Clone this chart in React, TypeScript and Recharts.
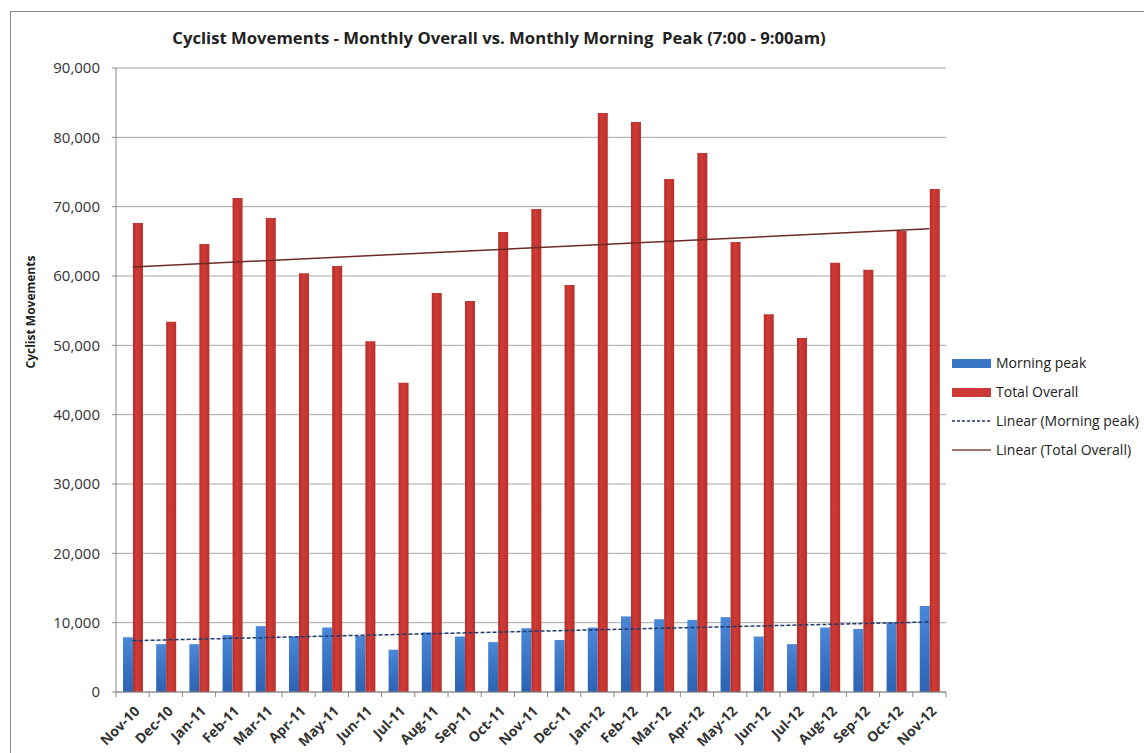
import React from 'react'
import { ComposedChart, Bar, Line, XAxis, YAxis, CartesianGrid, Legend } from 'recharts'

const months = [
  'Nov-10', 'Dec-10', 'Jan-11', 'Feb-11', 'Mar-11', 'Apr-11', 'May-11', 'Jun-11', 'Jul-11',
  'Aug-11', 'Sep-11', 'Oct-11', 'Nov-11', 'Dec-11', 'Jan-12', 'Feb-12', 'Mar-12', 'Apr-12',
  'May-12', 'Jun-12', 'Jul-12', 'Aug-12', 'Sep-12', 'Oct-12', 'Nov-12',
]
const morningPeak = [
  7900, 6900, 6900, 8200, 9500, 8000, 9300, 8100, 6100, 8600, 8000, 7200, 9200,
  7500, 9300, 10900, 10500, 10400, 10800, 8000, 6900, 9300, 9100, 10000, 12400,
]
const totalOverall = [
  67650, 53400, 64600, 71250, 68350, 60400, 61450, 50600, 44600, 57550, 56400, 66350, 69650,
  58700, 83500, 82200, 74000, 77750, 64900, 54500, 51050, 61900, 60900, 66500, 72550,
]
// trend line end points (first and last month)
const trendMorning = [7400, 10100]
const trendTotal = [61300, 66800]
const yTicks = [0, 10000, 20000, 30000, 40000, 50000, 60000, 70000, 80000, 90000]

const data = months.map((m, i) => ({
  month: m,
  morning: morningPeak[i],
  total: totalOverall[i],
  trendMorning: i === 0 ? trendMorning[0] : i === months.length - 1 ? trendMorning[1] : null,
  trendTotal: i === 0 ? trendTotal[0] : i === months.length - 1 ? trendTotal[1] : null,
}))

const FONT = '"Open Sans", sans-serif'
const W = 1144
const H = 753
const PLOT_LEFT = 116
const PLOT_RIGHT = 946
const LEGEND_W = 195
const BAND = (PLOT_RIGHT - PLOT_LEFT) / months.length

const XTick = (props: any) => {
  const { x, y, payload, index } = props
  const left = x - BAND / 2
  const tx = x + 8
  const ty = y + 20
  return (
    <g>
      <line x1={left} y1={y} x2={left} y2={y + 5} stroke="#868686" />
      {index === months.length - 1 && (
        <line x1={x + BAND / 2} y1={y} x2={x + BAND / 2} y2={y + 5} stroke="#868686" />
      )}
      <text
        x={tx}
        y={ty}
        transform={`rotate(-45, ${tx}, ${ty})`}
        textAnchor="end"
        fontSize={14}
        fontWeight="bold"
        fontFamily={FONT}
        fill="#333"
      >
        {payload.value}
      </text>
    </g>
  )
}

const legendItems = [
  { label: 'Morning peak', kind: 'bar', color: '#3a76c6' },
  { label: 'Total Overall', kind: 'bar', color: '#cc3834' },
  { label: 'Linear (Morning peak)', kind: 'dash', color: '#1f3a6e' },
  { label: 'Linear (Total Overall)', kind: 'line', color: '#8a4a44' },
]

const LegendBox = () => (
  <svg width={LEGEND_W} height={110} style={{ display: 'block' }}>
    {legendItems.map((it, i) => {
      const cy = 11 + i * 29
      return (
        <g key={it.label}>
          {it.kind === 'bar' && <rect x={3} y={cy - 4} width={39} height={9} fill={it.color} />}
          {it.kind === 'dash' && (
            <line x1={3} y1={cy} x2={42} y2={cy} stroke={it.color} strokeWidth={1.5} strokeDasharray="3 2" />
          )}
          {it.kind === 'line' && <line x1={3} y1={cy} x2={42} y2={cy} stroke={it.color} strokeWidth={1.5} />}
          <text x={47} y={cy + 5} fontSize={14} fontFamily={FONT} fill="#222">
            {it.label}
          </text>
        </g>
      )
    })}
  </svg>
)

export default function App() {
  return (
    <div style={{ position: 'fixed', left: 0, top: 0, width: W, height: H, overflow: 'hidden', background: '#fff' }}>
      <div
        style={{
          position: 'absolute',
          left: 10,
          top: 11,
          width: W + 20,
          height: H + 20,
          border: '1px solid #8c8c8c',
          boxSizing: 'border-box',
        }}
      />
      <div
        style={{
          position: 'absolute',
          left: 0,
          top: 26,
          width: 998,
          textAlign: 'center',
          fontFamily: FONT,
          fontWeight: 'bold',
          fontSize: 16.7,
          whiteSpace: 'pre',
          color: '#222',
        }}
      >
        Cyclist Movements - Monthly Overall vs. Monthly Morning  Peak (7:00 - 9:00am)
      </div>
      <div
        style={{
          position: 'absolute',
          left: 30,
          top: 312,
          transform: 'translate(-50%, -50%) rotate(-90deg)',
          fontFamily: FONT,
          fontWeight: 'bold',
          fontSize: 12,
          whiteSpace: 'nowrap',
          color: '#222',
        }}
      >
        Cyclist Movements
      </div>
      <div style={{ position: 'absolute', left: 0, top: 0 }}>
        <ComposedChart
          width={W}
          height={H}
          data={data}
          margin={{ top: 68, right: W - PLOT_RIGHT - LEGEND_W, bottom: 0, left: 46 }}
          barCategoryGap="21%"
          barGap={0}
        >
          <defs>
            <linearGradient id="blueGrad" x1="0" y1="0" x2="0" y2="1">
              <stop offset="0%" stopColor="#4a88d8" />
              <stop offset="100%" stopColor="#2c62b2" />
            </linearGradient>
            <linearGradient id="redGrad" x1="0" y1="0" x2="1" y2="0">
              <stop offset="0%" stopColor="#b52d2a" />
              <stop offset="40%" stopColor="#d03b36" />
              <stop offset="100%" stopColor="#b8302c" />
            </linearGradient>
          </defs>
          <CartesianGrid vertical={false} stroke="#a6a6a6" />
          <XAxis
            dataKey="month"
            interval={0}
            tickSize={0}
            tickMargin={0}
            height={H - 692}
            axisLine={{ stroke: '#868686' }}
            tick={<XTick />}
          />
          <YAxis
            domain={[0, 90000]}
            ticks={yTicks}
            width={PLOT_LEFT - 46}
            tickSize={4}
            tickMargin={12}
            tickFormatter={(v: number) => v.toLocaleString('en-US')}
            tick={{ fontSize: 15, fontFamily: FONT, fill: '#333' }}
            axisLine={{ stroke: '#868686' }}
            tickLine={{ stroke: '#868686' }}
          />
          <YAxis
            yAxisId="frame"
            orientation="right"
            width={0}
            tick={false}
            tickLine={false}
            axisLine={{ stroke: '#a6a6a6' }}
          />
          <Legend
            layout="vertical"
            align="right"
            verticalAlign="top"
            wrapperStyle={{ left: 949, top: 352, width: LEGEND_W }}
            content={() => <LegendBox />}
          />
          <Bar dataKey="morning" name="Morning peak" fill="url(#blueGrad)" isAnimationActive={false} />
          <Bar dataKey="total" name="Total Overall" fill="url(#redGrad)" isAnimationActive={false} />
          <Line
            dataKey="trendMorning"
            name="Linear (Morning peak)"
            stroke="#1f3a6e"
            strokeWidth={1.5}
            strokeDasharray="4 2"
            dot={false}
            connectNulls
            isAnimationActive={false}
          />
          <Line
            dataKey="trendTotal"
            name="Linear (Total Overall)"
            stroke="#6e2a26"
            strokeWidth={1.5}
            dot={false}
            connectNulls
            isAnimationActive={false}
          />
        </ComposedChart>
      </div>
    </div>
  )
}
